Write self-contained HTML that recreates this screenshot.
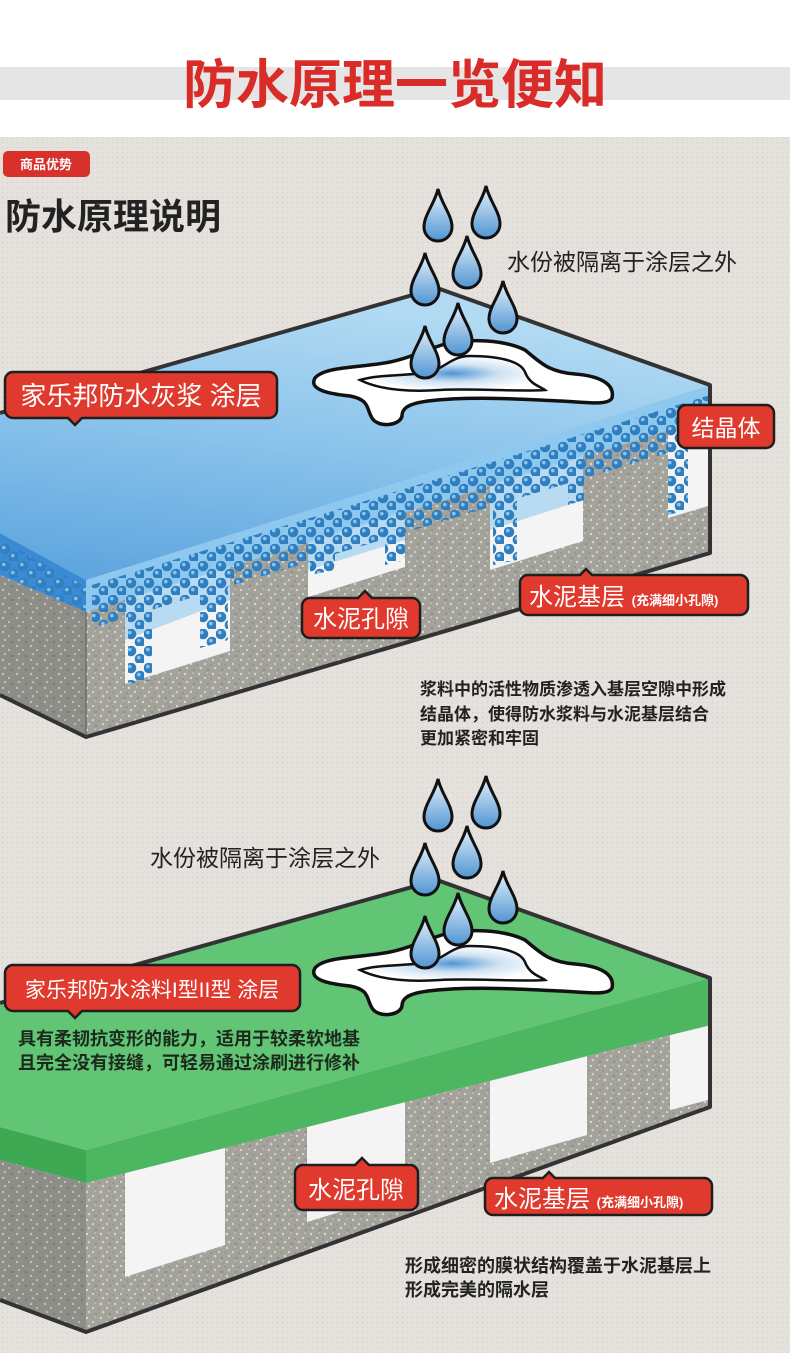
<!DOCTYPE html>
<html><head><meta charset="utf-8"><style>
*{margin:0;padding:0}
body{width:790px;height:1353px;overflow:hidden;background:#fff;font-family:"Liberation Sans","Noto Sans CJK SC",sans-serif}
</style></head><body>
<svg width="790" height="1353" viewBox="0 0 790 1353" xmlns="http://www.w3.org/2000/svg" style="display:block;font-family:'Liberation Sans','Noto Sans CJK SC',sans-serif">
<defs>
<pattern id="bgdots" width="5" height="5" patternUnits="userSpaceOnUse"><rect width="5" height="5" fill="#e5e1dd"/><circle cx="2.5" cy="2.5" r="0.8" fill="#d6d2ce"/></pattern>
<pattern id="conc" width="14" height="14" patternUnits="userSpaceOnUse"><rect width="14" height="14" fill="#a3a39c"/><circle cx="3" cy="2" r="1.2" fill="#d8d8d0"/><circle cx="9" cy="6" r="1" fill="#e2e2da"/><circle cx="5" cy="10" r="1.3" fill="#cfcfc7"/><circle cx="12" cy="12" r="0.9" fill="#7d7d76"/><circle cx="1" cy="7" r="0.8" fill="#85857e"/><circle cx="11" cy="1" r="0.8" fill="#d0d0c8"/></pattern>
<pattern id="conc2" width="14" height="14" patternUnits="userSpaceOnUse"><rect width="14" height="14" fill="#8e8e88"/><circle cx="3" cy="2" r="1.2" fill="#c2c2ba"/><circle cx="9" cy="6" r="1" fill="#cacac2"/><circle cx="5" cy="10" r="1.3" fill="#b8b8b0"/><circle cx="12" cy="12" r="0.9" fill="#6a6a64"/></pattern>
<pattern id="bdots" width="18" height="17" patternUnits="userSpaceOnUse"><circle cx="5" cy="5" r="5.3" fill="#2f7fc0"/><circle cx="3.8" cy="3.6" r="1.8" fill="#8cc4ee"/><circle cx="14" cy="13" r="5.3" fill="#2f7fc0"/><circle cx="12.8" cy="11.6" r="1.8" fill="#8cc4ee"/></pattern>
<linearGradient id="blueTop" x1="0" y1="1" x2="0.3" y2="0"><stop offset="0" stop-color="#5aa3de"/><stop offset="0.6" stop-color="#8fc6ec"/><stop offset="1" stop-color="#b2daf3"/></linearGradient>
<linearGradient id="drop" x1="0" y1="0" x2="0" y2="1"><stop offset="0" stop-color="#e8f3fb"/><stop offset="1" stop-color="#4f95d2"/></linearGradient>
<radialGradient id="pud"><stop offset="0" stop-color="#4f95d6"/><stop offset="0.5" stop-color="#cfe2f2"/><stop offset="1" stop-color="#fff"/></radialGradient>
<g id="dr"><path d="M0,-34 C3,-20 14,-8 14,4 A14,14 0 0 1 -14,4 C-14,-8 -3,-20 0,-34Z" fill="url(#drop)" stroke="#111" stroke-width="3"/></g>
<g id="puddle">
<path d="M315,378 C325,366 360,368 390,362 C410,358 425,350 445,344 C470,338 505,340 525,350 C540,362 548,372 575,374 C600,376 615,384 612,398 C608,406 585,402 560,401 C520,399 470,396 428,401 C405,404 402,410 402,416 C400,426 378,428 372,418 C366,408 370,400 350,396 C330,394 308,390 315,378Z" fill="#fff" stroke="#111" stroke-width="3.5"/>
<path d="M360,380 C380,374 410,376 430,372 C445,368 452,356 470,356 C495,356 520,360 525,372 C530,385 540,386 545,390 C520,392 470,388 440,390 C410,392 380,390 360,380Z" fill="url(#pud)" stroke="#111" stroke-width="2.5"/>
</g>
<g id="drops">
<use href="#dr" x="438" y="223"/><use href="#dr" x="486" y="220"/><use href="#dr" x="467" y="270"/><use href="#dr" x="425" y="287"/><use href="#dr" x="503" y="315"/><use href="#dr" x="458" y="337"/><use href="#dr" x="425" y="360"/>
</g>
</defs>
<rect width="790" height="137" fill="#fff"/>
<rect y="67" width="790" height="33" fill="#e5e5e5"/>
<text x="395" y="103" text-anchor="middle" font-size="53" font-weight="bold" fill="#d92b27">防水原理一览便知</text>
<rect y="137" width="790" height="1216" fill="url(#bgdots)"/>
<rect x="3" y="151" width="87" height="26" rx="5" fill="#d8302b"/>
<text x="46" y="169" text-anchor="middle" font-size="13" font-weight="bold" fill="#fff">商品优势</text>
<text x="5" y="229" font-size="36" font-weight="bold" fill="#222">防水原理说明</text>

<!-- TOP SLAB -->
<polygon points="0,575 86,612 86,737 0,695" fill="url(#conc2)"/>
<polygon points="86,612 710,417 710,553 86,737" fill="url(#conc)"/>
<polygon points="125,600 230,567 230,651 125,684" fill="#f4f4f4"/>
<polygon points="308,543 405,512 405,567 308,597" fill="#f4f4f4"/>
<polygon points="490,486 583,457 583,541 490,570" fill="#f4f4f4"/>
<polygon points="668,430 708,418 708,506 668,518" fill="#f4f4f4"/>
<polygon points="0,533 86,580 86,612 0,575" fill="#3b8ad4"/>
<polygon points="86,580 710,385 710,417 86,612" fill="#8ec8ee"/>
<polygon points="0,413 437,288 710,385 86,580 0,533" fill="url(#blueTop)"/>
<polygon points="125,598 230,565 230,600 125,640" fill="#9fd0f0" opacity="0.7"/>
<polygon points="308,541 405,510 405,540 308,570" fill="#9fd0f0" opacity="0.7"/>
<polygon points="490,484 583,455 583,500 490,530" fill="#9fd0f0" opacity="0.7"/>
<polygon points="0,540 86,587 86,612 0,575" fill="url(#bdots)" opacity="0.9"/>
<polygon points="92,585 710,395 710,440 92,628" fill="url(#bdots)"/>
<polygon points="128,600 152,593 152,680 128,684" fill="url(#bdots)"/>
<polygon points="200,576 228,568 228,640 200,648" fill="url(#bdots)"/>
<polygon points="310,543 335,535 335,570 310,575" fill="url(#bdots)"/>
<polygon points="385,518 405,513 405,560 385,565" fill="url(#bdots)"/>
<polygon points="493,485 517,478 517,560 493,565" fill="url(#bdots)"/>
<polygon points="568,460 584,457 584,500 568,505" fill="url(#bdots)"/>
<polygon points="668,428 688,424 688,510 668,515" fill="url(#bdots)"/>
<polyline points="0,413 437,288 710,385 710,553 86,737 0,695" fill="none" stroke="#333" stroke-width="4" stroke-linejoin="round"/>
<line x1="86" y1="737" x2="86" y2="612" stroke="#555" stroke-width="1"/>
<use href="#puddle"/>
<use href="#drops"/>
<text x="507" y="270" font-size="23" fill="#222">水份被隔离于涂层之外</text>

<g stroke="#1e1e1e" stroke-width="2.5" fill="#e0392d">
<path d="M13,372 H269 a8,8 0 0 1 8,8 V410 a8,8 0 0 1 -8,8 H82 L75,425 L68,418 H13 a8,8 0 0 1 -8,-8 V380 a8,8 0 0 1 8,-8Z"/>
<rect x="678" y="405" width="96" height="43" rx="8"/>
<path d="M310,598 H358 L365,591 L372,598 H412 a8,8 0 0 1 8,8 V630 a8,8 0 0 1 -8,8 H310 a8,8 0 0 1 -8,-8 V606 a8,8 0 0 1 8,-8Z"/>
<path d="M528,575 H580 L586,569 L592,575 H740 a8,8 0 0 1 8,8 V607 a8,8 0 0 1 -8,8 H528 a8,8 0 0 1 -8,-8 V583 a8,8 0 0 1 8,-8Z"/>
</g>
<g fill="#fff">
<text x="141" y="405" text-anchor="middle" font-size="26">家乐邦防水灰浆 涂层</text>
<text x="726" y="436" text-anchor="middle" font-size="23">结晶体</text>
<text x="361" y="627" text-anchor="middle" font-size="24">水泥孔隙</text>
<text x="529" y="605" font-size="24">水泥基层 <tspan font-size="13" font-weight="bold">(充满细小孔隙)</tspan></text>
</g>
<g font-size="17" fill="#222" font-weight="bold">
<text x="420" y="695">浆料中的活性物质渗透入基层空隙中形成</text>
<text x="420" y="720">结晶体，使得防水浆料与水泥基层结合</text>
<text x="420" y="744">更加紧密和牢固</text>
</g>

<!-- BOTTOM SLAB -->
<polygon points="0,1160 86,1183 86,1332 0,1300" fill="url(#conc2)"/>
<polygon points="86,1183 710,1025 710,1107 86,1332" fill="url(#conc)"/>
<polygon points="125,1173 225,1148 225,1245 125,1277" fill="#f4f4f4"/>
<polygon points="307,1127 405,1102 405,1192 307,1222" fill="#f4f4f4"/>
<polygon points="490,1081 587,1056 587,1135 490,1163" fill="#f4f4f4"/>
<polygon points="670,1035 708,1026 708,1100 670,1110" fill="#f4f4f4"/>
<polygon points="0,1127 86,1150 86,1183 0,1160" fill="#3fa852"/>
<polygon points="86,1150 710,978 710,1025 86,1183" fill="#4cb660"/>
<polygon points="0,1003 437,880 710,978 86,1150 0,1127" fill="#62c475"/>
<polyline points="0,1003 437,880 710,978 710,1107 86,1332 0,1300" fill="none" stroke="#333" stroke-width="4" stroke-linejoin="round"/>
<g transform="translate(0,590)"><use href="#puddle"/><use href="#drops"/></g>
<text x="150" y="866" font-size="23" fill="#222">水份被隔离于涂层之外</text>
<g stroke="#1e1e1e" stroke-width="2.5" fill="#e0392d">
<path d="M13,965 H292 a8,8 0 0 1 8,8 V1003 a8,8 0 0 1 -8,8 H82 L75,1018 L68,1011 H13 a8,8 0 0 1 -8,-8 V973 a8,8 0 0 1 8,-8Z"/>
<path d="M303,1165 H355 L362,1158 L369,1165 H410 a8,8 0 0 1 8,8 V1202 a8,8 0 0 1 -8,8 H303 a8,8 0 0 1 -8,-8 V1173 a8,8 0 0 1 8,-8Z"/>
<path d="M493,1178 H543 L549,1172 L555,1178 H704 a8,8 0 0 1 8,8 V1207 a8,8 0 0 1 -8,8 H493 a8,8 0 0 1 -8,-8 V1186 a8,8 0 0 1 8,-8Z"/>
</g>
<g fill="#fff">
<text x="152" y="997" text-anchor="middle" font-size="21">家乐邦防水涂料I型II型 涂层</text>
<text x="356" y="1198" text-anchor="middle" font-size="24">水泥孔隙</text>
<text x="494" y="1207" font-size="24">水泥基层 <tspan font-size="13" font-weight="bold">(充满细小孔隙)</tspan></text>
</g>
<g font-size="18" fill="#1c2a1c" font-weight="bold">
<text x="18" y="1045">具有柔韧抗变形的能力，适用于较柔软地基</text>
<text x="18" y="1069">且完全没有接缝，可轻易通过涂刷进行修补</text>
</g>
<g font-size="18" fill="#222" font-weight="bold">
<text x="405" y="1272">形成细密的膜状结构覆盖于水泥基层上</text>
<text x="405" y="1296">形成完美的隔水层</text>
</g>
</svg>
</body></html>
